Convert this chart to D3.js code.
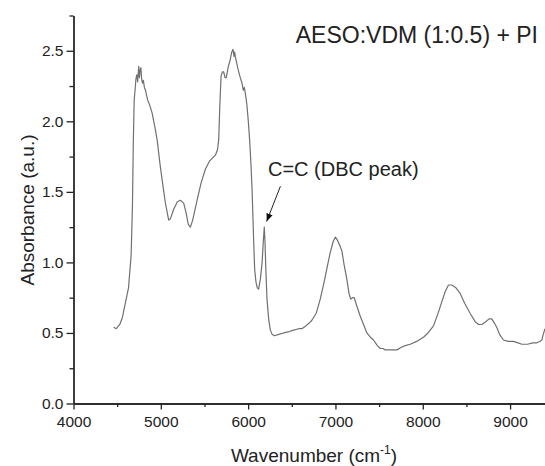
<!DOCTYPE html>
<html>
<head>
<meta charset="utf-8">
<script src="https://cdn.jsdelivr.net/npm/d3@7"></script>
<style>
    body { margin: 0; background: #fff; }
    text { font-family: "Liberation Sans", Arial, sans-serif; fill: #222; }
    .axis path, .axis line { stroke: #222; stroke-width: 1.3; }
</style>
</head>
<body>
<div id="chart"></div>
<script>
// spectrum
const wavenumber = [
    4460, 4490, 4530, 4560, 4590, 4630, 4660, 4675, 4685, 4695, 4705, 4715, 4725, 4735, 4747, 4755,
    4762, 4772, 4780, 4790, 4800, 4812, 4825, 4835, 4850, 4870, 4900, 4938, 4960, 4990, 5014, 5050,
    5090, 5110, 5150, 5190, 5224, 5262, 5290, 5315, 5339, 5365, 5390, 5415, 5460, 5510, 5560, 5625,
    5650, 5663, 5675, 5690, 5705, 5720, 5735, 5750, 5770, 5796, 5812, 5827, 5838, 5846, 5853, 5880,
    5905, 5930, 5945, 5957, 5975, 5987, 6002, 6017, 6032, 6045, 6055, 6063, 6075, 6090, 6105, 6120,
    6140, 6160, 6175, 6185, 6193, 6203, 6216, 6235, 6254, 6275, 6300, 6350, 6406, 6470, 6520, 6580,
    6616, 6660, 6700, 6730, 6780, 6826, 6870, 6903, 6940, 6975, 7000, 7020, 7050, 7074, 7100, 7131,
    7155, 7175, 7195, 7215, 7240, 7283, 7322, 7360, 7400, 7436, 7480, 7513, 7545, 7570, 7610, 7650,
    7704, 7760, 7800, 7856, 7930, 8008, 8060, 8123, 8170, 8218, 8255, 8294, 8332, 8380, 8428, 8480,
    8542, 8600, 8640, 8676, 8720, 8760, 8790, 8820, 8847, 8880, 8924, 8980, 9039, 9090, 9135, 9200,
    9260, 9306, 9340, 9363, 9380, 9400
];
const absorbance = [
    0.54, 0.53, 0.56, 0.61, 0.70, 0.82, 1.05, 1.40, 1.85, 2.15, 2.22, 2.30, 2.33, 2.28, 2.39, 2.31,
    2.36, 2.38, 2.30, 2.27, 2.29, 2.24, 2.22, 2.19, 2.15, 2.12, 2.06, 1.94, 1.86, 1.70, 1.59, 1.43,
    1.30, 1.31, 1.38, 1.43, 1.44, 1.42, 1.35, 1.27, 1.25, 1.30, 1.37, 1.44, 1.56, 1.66, 1.72, 1.76,
    1.80, 1.87, 2.10, 2.32, 2.35, 2.35, 2.31, 2.31, 2.38, 2.44, 2.49, 2.51, 2.46, 2.49, 2.46, 2.38,
    2.32, 2.27, 2.22, 2.24, 2.17, 2.11, 2.00, 1.87, 1.70, 1.52, 1.32, 1.16, 0.95, 0.86, 0.82, 0.81,
    0.88, 1.00, 1.16, 1.25, 1.15, 0.95, 0.74, 0.60, 0.52, 0.49, 0.48, 0.49, 0.50, 0.51, 0.52, 0.53,
    0.53, 0.55, 0.57, 0.59, 0.64, 0.74, 0.86, 0.96, 1.07, 1.15, 1.18, 1.16, 1.12, 1.08, 0.98, 0.88,
    0.78, 0.74, 0.75, 0.75, 0.70, 0.62, 0.56, 0.50, 0.47, 0.45, 0.41, 0.39, 0.39, 0.38, 0.38, 0.38,
    0.38, 0.40, 0.41, 0.42, 0.44, 0.47, 0.50, 0.55, 0.63, 0.72, 0.79, 0.84, 0.84, 0.82, 0.78, 0.71,
    0.64, 0.58, 0.56, 0.56, 0.58, 0.60, 0.60, 0.57, 0.54, 0.49, 0.45, 0.44, 0.44, 0.43, 0.42, 0.42,
    0.43, 0.43, 0.44, 0.45, 0.49, 0.53
];
const xTicks = [4000, 5000, 6000, 7000, 8000, 9000];
const xMinorTicks = [4500, 5500, 6500, 7500, 8500];
const yTicks = [0.0, 0.5, 1.0, 1.5, 2.0, 2.5];
const yMinorTicks = [0.25, 0.75, 1.25, 1.75, 2.25, 2.75];

const width = 545;
const height = 466;

const data = wavenumber.map((w, i) => ({w: w, a: absorbance[i]}));

const svg = d3.select('#chart')
    .append('svg')
        .attr('width', width)
        .attr('height', height);

const x = d3.scaleLinear().domain([4000, 9400]).range([73.5, 545]);
const y = d3.scaleLinear().domain([0, 2.75]).range([403.5, 15.5]);

// x axis, major + minor ticks
svg.append('g')
    .attr('class', 'axis')
    .attr('transform', `translate(0,${y(0)})`)
    .call(d3.axisBottom(x).tickValues(xMinorTicks).tickSize(3.5).tickSizeOuter(0).tickFormat(''));
svg.append('g')
    .attr('class', 'axis')
    .attr('transform', `translate(0,${y(0)})`)
    .call(d3.axisBottom(x).tickValues(xTicks).tickSize(6).tickSizeOuter(0).tickPadding(6).tickFormat(d3.format('d')))
    .call(g => g.selectAll('text').style('font-size', '15.5px').attr('fill', '#222'));

// y axis
svg.append('g')
    .attr('class', 'axis')
    .attr('transform', `translate(${x(4000)},0)`)
    .call(d3.axisLeft(y).tickValues(yMinorTicks).tickSize(4).tickSizeOuter(0).tickFormat(''));
svg.append('g')
    .attr('class', 'axis')
    .attr('transform', `translate(${x(4000)},0)`)
    .call(d3.axisLeft(y).tickValues(yTicks).tickSize(7).tickSizeOuter(0).tickPadding(3).tickFormat(d3.format('.1f')))
    .call(g => g.selectAll('text').style('font-size', '15.5px').attr('fill', '#222'));

// spectrum line
const line = d3.line()
    .x(d => x(d.w))
    .y(d => y(d.a));
svg.append('path')
    .datum(data)
    .attr('fill', 'none')
    .attr('stroke', '#707070')
    .attr('stroke-width', 1.2)
    .attr('stroke-linejoin', 'round')
    .attr('d', line);

// axis titles
const xt = svg.append('text')
    .attr('x', 314)
    .attr('y', 462)
    .attr('text-anchor', 'middle')
    .style('font-size', '19px');
xt.append('tspan').text('Wavenumber (cm');
xt.append('tspan').attr('dy', -8).style('font-size', '12px').text('-1');
xt.append('tspan').attr('dy', 8).text(')');

svg.append('text')
    .attr('transform', 'translate(34,210) rotate(-90)')
    .attr('text-anchor', 'middle')
    .style('font-size', '19px')
    .text('Absorbance (a.u.)');

// title
svg.append('text')
    .attr('x', 538)
    .attr('y', 43)
    .attr('text-anchor', 'end')
    .style('font-size', '23px')
    .text('AESO:VDM (1:0.5) + PI');

// annotation with arrow
svg.append('defs').append('marker')
    .attr('id', 'arrow')
    .attr('viewBox', '0 0 10 10')
    .attr('refX', 10)
    .attr('refY', 5)
    .attr('markerWidth', 8)
    .attr('markerHeight', 8)
    .attr('orient', 'auto')
    .append('path')
        .attr('d', 'M0,1 L10,5 L0,9 Z')
        .attr('fill', '#111');

svg.append('line')
    .attr('x1', x(6370))
    .attr('y1', y(1.54))
    .attr('x2', x(6212))
    .attr('y2', y(1.29))
    .attr('stroke', '#222')
    .attr('stroke-width', 1)
    .attr('marker-end', 'url(#arrow)');

svg.append('text')
    .attr('x', 268)
    .attr('y', 176)
    .style('font-size', '20px')
    .text('C=C (DBC peak)');
</script>
</body>
</html>
